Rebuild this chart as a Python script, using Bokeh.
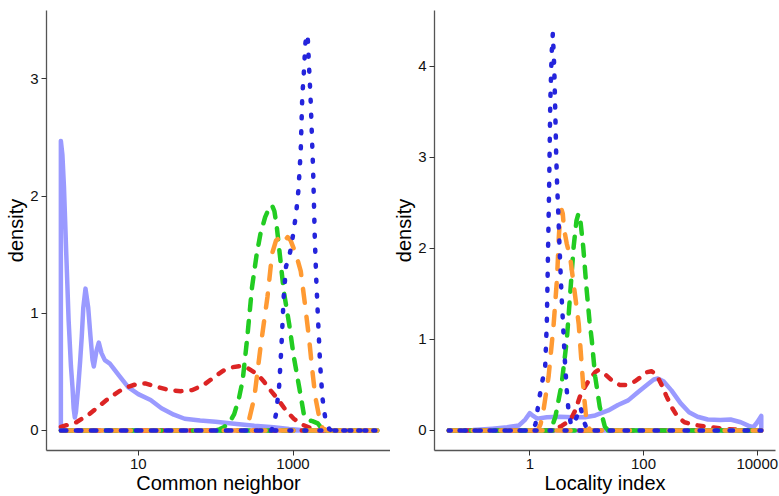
from bokeh.plotting import figure
from bokeh.layouts import row
from bokeh.models import Range1d, FixedTicker, NumeralTickFormatter
from bokeh.embed import file_html
from bokeh.resources import INLINE

# ---------------- Left panel: Common neighbor ----------------
cn_purple_x = [1.0, 1.047, 1.096, 1.135, 1.175, 1.259, 1.349, 1.413, 1.462, 1.514, 1.567, 1.675,
               1.778, 1.862, 1.950, 2.080, 2.254, 2.415, 2.564, 2.667, 2.884, 3.090, 3.350, 3.698,
               4.295, 5.623, 7.413, 10.0, 14.45, 19.95, 28.84, 39.81, 63.10, 100.0, 173.8, 316.2,
               562.3, 891.3, 1259.0, 1995.0, 12303.0]
cn_purple_y = [2.47, 2.35, 2.08, 1.79, 1.50, 0.94, 0.55, 0.37, 0.19, 0.11, 0.16, 0.37,
               0.60, 0.80, 1.05, 1.21, 1.05, 0.80, 0.60, 0.546, 0.68, 0.75, 0.66, 0.60,
               0.57, 0.47, 0.37, 0.31, 0.26, 0.19, 0.135, 0.10, 0.085, 0.075, 0.057, 0.04,
               0.028, 0.012, 0.003, 0.0, 0.0]

cn_red_x = [1.0, 1.585, 2.344, 3.890, 6.457, 10.0, 12.59, 17.78, 25.12, 35.48, 50.12, 70.79,
            93.33, 125.9, 166.0, 208.9, 263.0, 346.7, 416.9, 501.2, 631.0, 812.8, 1023.0,
            1318.0, 1698.0, 2239.0, 2818.0, 12303.0]
cn_red_y = [0.03, 0.07, 0.14, 0.26, 0.36, 0.40, 0.40, 0.37, 0.345, 0.335, 0.345, 0.39,
            0.45, 0.51, 0.54, 0.55, 0.53, 0.48, 0.42, 0.35, 0.27, 0.17, 0.10,
            0.05, 0.02, 0.005, 0.0, 0.0]

cn_green_x = [1.0, 100.0, 112.2, 128.8, 151.4, 173.8, 199.5, 223.9, 257.0, 295.1, 338.8, 380.2,
              436.5, 501.2, 537.0, 575.4, 616.6, 660.7, 758.6, 891.3, 1023.0, 1202.0, 1380.0,
              1549.0, 1778.0, 2089.0, 2399.0, 2818.0, 12303.0]
cn_green_y = [0.0, 0.0, 0.01, 0.03, 0.07, 0.14, 0.27, 0.43, 0.80, 1.22, 1.50, 1.68,
              1.82, 1.91, 1.92, 1.87, 1.74, 1.56, 1.19, 0.91, 0.63, 0.37, 0.14,
              0.09, 0.08, 0.06, 0.01, 0.0, 0.0]

cn_orange_x = [1.0, 223.9, 269.2, 316.2, 380.2, 467.7, 537.0, 602.6, 660.7, 741.3, 851.1, 933.3,
               1096.0, 1259.0, 1445.0, 1622.0, 1778.0, 1950.0, 2188.0, 2399.0, 2754.0, 12303.0]
cn_orange_y = [0.0, 0.0, 0.085, 0.28, 0.71, 1.14, 1.51, 1.62, 1.64, 1.60, 1.65, 1.62,
               1.50, 1.36, 1.05, 0.77, 0.51, 0.28, 0.11, 0.02, 0.0, 0.0]

cn_blue_x = [1.0, 524.8, 562.3, 602.6, 660.7, 707.9, 758.6, 812.8, 891.3, 955.0, 1023.0, 1096.0,
             1175.0, 1259.0, 1318.0, 1380.0, 1445.0, 1496.0, 1549.0, 1622.0, 1698.0, 1758.0,
             1820.0, 1862.0, 1905.0, 1995.0, 2089.0, 2239.0, 2399.0, 2630.0, 2951.0, 3162.0, 12303.0]
cn_blue_y = [0.0, 0.0, 0.04, 0.14, 0.37, 0.71, 1.14, 1.40, 1.48, 1.58, 1.71, 1.85,
             2.05, 2.39, 2.85, 3.05, 3.30, 3.38, 3.36, 3.07, 2.79, 2.50,
             2.22, 1.96, 1.68, 1.30, 1.00, 0.57, 0.28, 0.09, 0.01, 0.0, 0.0]

# ---------------- Right panel: Locality index ----------------
li_purple_x = [0.0376, 0.1, 0.2188, 0.3981, 0.6457, 0.8318, 1.0, 1.148, 1.349, 1.995, 3.388, 5.623,
               9.333, 14.13, 23.99, 35.48, 53.70, 79.43, 120.2, 151.4, 177.8, 223.9, 309.0, 446.7,
               631.0, 891.3, 1349.0, 2239.0, 3388.0, 5129.0, 7079.0, 8511.0, 10000.0, 11750.0]
li_purple_y = [0.0, 0.005, 0.02, 0.035, 0.055, 0.12, 0.19, 0.16, 0.13, 0.145, 0.15, 0.145,
               0.146, 0.165, 0.22, 0.28, 0.33, 0.42, 0.51, 0.56, 0.57, 0.54, 0.44, 0.30,
               0.20, 0.15, 0.12, 0.115, 0.12, 0.09, 0.05, 0.035, 0.09, 0.16]

li_red_x = [0.0376, 2.512, 3.162, 3.631, 5.129, 6.310, 7.586, 9.333, 11.48, 14.13, 15.85, 19.95,
            27.54, 38.02, 53.70, 70.79, 91.20, 114.8, 138.0, 166.0, 204.2, 251.2, 309.0, 398.1,
            524.8, 794.3, 1349.0, 2512.0, 3981.0, 6310.0, 11750.0]
li_red_y = [0.0, 0.0, 0.03, 0.05, 0.11, 0.22, 0.37, 0.48, 0.57, 0.64, 0.66, 0.63,
            0.55, 0.50, 0.50, 0.54, 0.59, 0.64, 0.65, 0.62, 0.51, 0.38, 0.26, 0.15,
            0.09, 0.06, 0.04, 0.02, 0.01, 0.0, 0.0]

li_green_x = [0.0376, 2.239, 2.455, 2.818, 3.631, 4.467, 5.129, 5.888, 6.607, 7.161, 7.762, 8.710,
              10.0, 11.22, 12.30, 14.13, 16.98, 20.89, 23.99, 11750.0]
li_green_y = [0.0, 0.0, 0.04, 0.15, 0.51, 0.99, 1.50, 2.01, 2.30, 2.38, 2.30, 2.01,
              1.54, 1.20, 0.99, 0.59, 0.26, 0.04, 0.0, 0.0]

li_orange_x = [0.0376, 1.380, 1.549, 1.738, 2.138, 2.630, 3.020, 3.236, 3.388, 3.631, 3.802, 3.981,
               4.467, 5.129, 5.888, 7.244, 8.128, 8.913, 9.772, 10.72, 11.48, 11750.0]
li_orange_y = [0.0, 0.0, 0.07, 0.22, 0.59, 1.17, 1.68, 2.12, 2.31, 2.42, 2.38, 2.22,
               2.05, 1.90, 1.61, 1.17, 0.74, 0.40, 0.15, 0.05, 0.0, 0.0]

li_blue_x = [0.0376, 1.122, 1.259, 1.445, 1.622, 1.862, 1.995, 2.089, 2.188, 2.291, 2.427, 2.541,
             2.692, 2.818, 2.917, 3.020, 3.162, 3.388, 3.631, 3.890, 4.169, 4.467, 4.786, 5.248,
             5.888, 6.918, 7.762, 8.710, 10.0, 11.22, 11750.0]
li_blue_y = [0.0, 0.0, 0.07, 0.33, 0.51, 0.69, 1.20, 1.94, 2.67, 3.60, 4.15, 4.36,
             3.98, 3.44, 3.00, 2.70, 2.40, 1.90, 1.46, 1.10, 0.73, 0.44, 0.22, 0.08,
             0.05, 0.18, 0.26, 0.12, 0.02, 0.0, 0.0]

# series styles: (colour, dash)
STYLES = {
    "purple": ("#9A9AFF", "solid"),
    "red": ("#DC2424", "6 10"),
    "green": ("#22CC22", "11 11"),
    "orange": ("#FF9A33", "14 14"),
    "blue": ("#2424DC", "2 13"),
}

FONT = "Liberation Sans"


def closed_path(xs, ys):
    # density outline: curve, drop to baseline, back along baseline
    px = list(xs) + [xs[-1], xs[0], xs[0]]
    py = list(ys) + [0.0, 0.0, ys[0]]
    return px, py


def make_fig(width, border_left, border_right, x_rng, y_rng, xticks, yticks, xlabel, series):
    p = figure(width=width, height=496, x_axis_type="log",
               x_range=Range1d(*x_rng), y_range=Range1d(*y_rng),
               output_backend="svg", toolbar_location=None,
               min_border_left=border_left, min_border_right=border_right,
               min_border_top=10, min_border_bottom=46)
    p.outline_line_color = None
    p.background_fill_color = "white"
    p.border_fill_color = "white"
    p.xgrid.visible = False
    p.ygrid.visible = False

    for xs, ys, key in series:
        color, dash = STYLES[key]
        px, py = closed_path(xs, ys)
        p.line(px, py, line_color=color, line_width=4.5, line_dash=dash,
               line_cap="round", line_join="round")

    p.xaxis.ticker = FixedTicker(ticks=xticks, minor_ticks=[])
    p.xaxis.formatter = NumeralTickFormatter(format="0")
    p.yaxis.ticker = FixedTicker(ticks=yticks, minor_ticks=[])
    for ax in (p.xaxis[0], p.yaxis[0]):
        ax.axis_line_color = "#555555"
        ax.axis_line_width = 1.3
        ax.major_tick_line_color = "#333333"
        ax.major_tick_out = 5
        ax.major_tick_in = 0
        ax.minor_tick_line_color = None
        ax.major_label_text_font = FONT
        ax.major_label_text_font_size = "15px"
        ax.major_label_text_color = "#111111"
        ax.major_label_standoff = 3
        ax.axis_label_text_font = FONT
        ax.axis_label_text_font_size = "20px"
        ax.axis_label_text_font_style = "normal"
        ax.axis_label_text_color = "black"
        ax.axis_label_standoff = 0
    p.xaxis.axis_label = xlabel
    p.yaxis.axis_label = "density"
    return p


left = make_fig(390, 46, 0, (0.652, 18200.0), (-0.171, 3.583), [10, 1000], [0, 1, 2, 3],
                "Common neighbor",
                [(cn_purple_x, cn_purple_y, "purple"), (cn_red_x, cn_red_y, "red"),
                 (cn_green_x, cn_green_y, "green"), (cn_orange_x, cn_orange_y, "orange"),
                 (cn_blue_x, cn_blue_y, "blue")])

right = make_fig(389, 42, 4, (0.0211, 20900.0), (-0.22, 4.61), [1, 100, 10000], [0, 1, 2, 3, 4],
                 "Locality index",
                 [(li_purple_x, li_purple_y, "purple"), (li_red_x, li_red_y, "red"),
                  (li_green_x, li_green_y, "green"), (li_orange_x, li_orange_y, "orange"),
                  (li_blue_x, li_blue_y, "blue")])

layout = row(left, right)
open("out.html", "w").write(file_html(layout, INLINE))
